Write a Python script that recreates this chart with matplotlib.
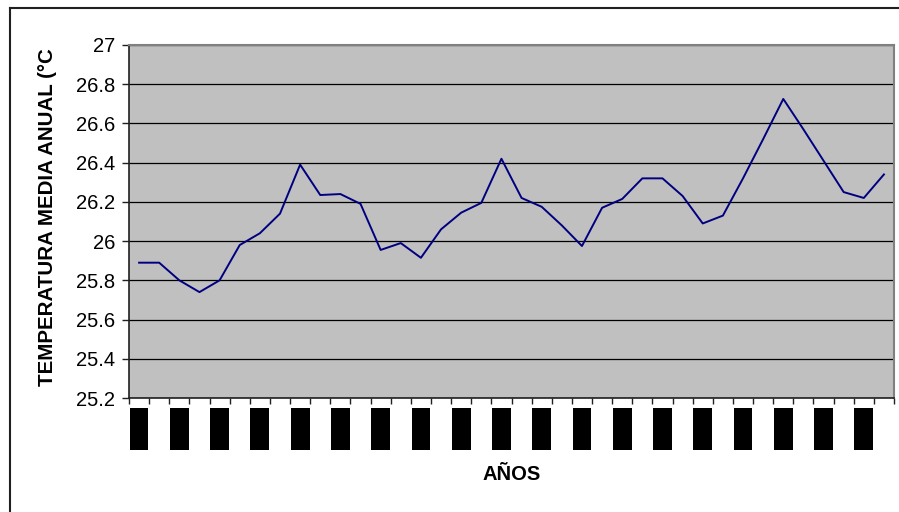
import matplotlib
matplotlib.use("Agg")
import matplotlib.pyplot as plt
from matplotlib.lines import Line2D
import numpy as np

# Annual mean temperature series
years = list(range(1970, 2008))
temperatures = [25.89, 25.89, 25.80, 25.74, 25.80, 25.98, 26.04, 26.14, 26.39, 26.235,
                26.24, 26.19, 25.955, 25.99, 25.915, 26.06, 26.145, 26.195, 26.42, 26.22,
                26.175, 26.08, 25.975, 26.17, 26.215, 26.32, 26.32, 26.23, 26.09, 26.13,
                26.32, 26.52, 26.725, 26.57, 26.41, 26.25, 26.22, 26.34]
y_ticks = [25.2, 25.4, 25.6, 25.8, 26, 26.2, 26.4, 26.6, 26.8, 27]
y_tick_labels = ["25.2", "25.4", "25.6", "25.8", "26", "26.2", "26.4", "26.6", "26.8", "27"]

plt.rcParams["font.family"] = ["Liberation Sans", "DejaVu Sans"]

fig = plt.figure(figsize=(8.99, 5.12), dpi=100)
ax = fig.add_axes([129 / 899, 1 - 398 / 512, (894 - 129) / 899, (398 - 45) / 512])
ax.set_facecolor("#C0C0C0")

x = np.arange(len(years))
ax.plot(x, temperatures, color="#000080", lw=1.4, zorder=3)

ax.set_ylim(25.2, 27)
ax.set_yticks(y_ticks)
ax.set_yticklabels(y_tick_labels, fontsize=14.5)
ax.yaxis.grid(True, color="black", lw=0.9)
ax.set_axisbelow(True)
ax.tick_params(axis="y", length=5, width=1, color="#202020", pad=5)

ax.set_xlim(-0.5, len(years) - 0.5)
ax.set_xticks(x[::2])
ax.set_xticklabels([str(y) for y in years[::2]], rotation=90, fontsize=13,
                   color="black", va="top", ha="center")
for lbl in ax.get_xticklabels():
    lbl.set_bbox(dict(facecolor="black", edgecolor="none", pad=0.7))
ax.set_xticks(np.arange(-0.5, len(years), 1), minor=True)
ax.tick_params(axis="x", which="major", length=0, pad=8)
ax.tick_params(axis="x", which="minor", length=4, width=1, color="#202020")

for side in ("top", "right"):
    ax.spines[side].set_color("#808080")
    ax.spines[side].set_linewidth(1.5)
for side in ("left", "bottom"):
    ax.spines[side].set_color("#202020")
    ax.spines[side].set_linewidth(1.2)

fig.text(48 / 899, 1 - 217 / 512, "TEMPERATURA MEDIA ANUAL (°C", rotation=90,
         fontsize=14.8, fontweight="bold", ha="center", va="center")
fig.text(512 / 899, 1 - 475 / 512, "AÑOS", fontsize=14.5, fontweight="bold",
         ha="center", va="center")

# chart area frame
fig.add_artist(Line2D([10 / 899, 10 / 899], [0, 1 - 8 / 512], transform=fig.transFigure,
                      color="#202020", lw=1.5))
fig.add_artist(Line2D([10 / 899, 1], [1 - 8 / 512, 1 - 8 / 512], transform=fig.transFigure,
                      color="#202020", lw=1.5))

fig.savefig("out.png", dpi=100, facecolor="white")
